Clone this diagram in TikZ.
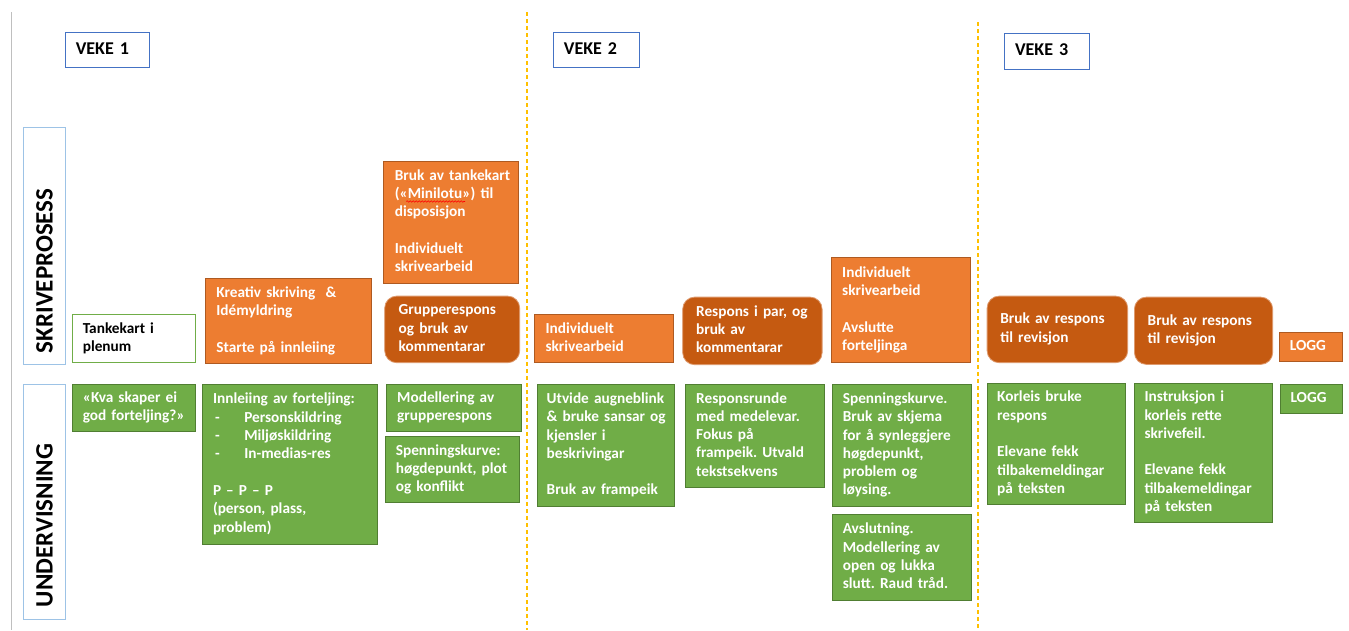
\documentclass[tikz,border=0pt]{standalone}
\usepackage{fontspec}
\setmainfont{Carlito}
\usetikzlibrary{decorations.pathmorphing}
\definecolor{orangeA}{HTML}{ED7D31}
\definecolor{orangeB}{HTML}{AE5A21}
\definecolor{darkO}{HTML}{C55A11}
\definecolor{darkOB}{HTML}{DE9A6E}
\definecolor{greenA}{HTML}{70AD47}
\definecolor{greenB}{HTML}{507E32}
\definecolor{blueA}{HTML}{4472C4}
\definecolor{blueL}{HTML}{9DC3E6}
\definecolor{grayL}{HTML}{BFBFBF}
\frenchspacing
\newcommand\mkbox[8]{%
  \pgfmathsetmacro\bw{#6-#4}\pgfmathsetmacro\bh{#7-#5}\pgfmathsetmacro\tw{#6-#4-2*#3}%
  \node[#1, inner xsep=#3pt, minimum width=\bw pt, minimum height=\bh pt, text width=\tw pt] (#2) at (#4,#5)
    {\begin{tabular}{@{}l@{}}#8\end{tabular}};}
\newcommand\dashitem[1]{\hspace{2pt}\makebox[29.3pt][l]{-}#1}
\begin{document}
\begin{tikzpicture}[x=1pt,y=-1pt,
  base/.style={anchor=north west, inner ysep=0pt, align=left,
    font=\fontsize{15.3}{18.3}\selectfont\bfseries, text=white, line width=1pt},
  obox/.style={base, fill=orangeA, draw=orangeB},
  rbox/.style={base, fill=darkO, draw=darkOB, rounded corners=12pt, line width=0.8pt},
  gbox/.style={base, fill=greenA, draw=greenB},
  wbox/.style={base, fill=white, draw=greenA, text=black},
  veke/.style={base, draw=blueA, text=black, font=\fontsize{18}{21}\selectfont\bfseries},
  side/.style={anchor=north west, draw=blueL, line width=1pt, inner sep=0pt},
  sidetext/.style={rotate=90, anchor=west, inner sep=0pt, font=\fontsize{25}{30}\selectfont\bfseries},
  weekline/.style={draw={rgb,255:red,255;green,192;blue,0}, line width=1.3pt, dash pattern=on 4pt off 3pt}
]
\useasboundingbox (0,0) rectangle (1349,630);
\fill[white] (0,0) rectangle (1349,630);

% guide lines
\coordinate (ga) at (11.5,12.3); \coordinate (gb) at (11.5,630);
\draw[grayL, line width=1.5pt] (ga) -- (gb);
\coordinate (wla) at (527,12.3); \coordinate (wlb) at (527,630);
\coordinate (wka) at (978,22.3); \coordinate (wkb) at (978,630);
\draw[weekline] (wla) -- (wlb);
\draw[weekline] (wka) -- (wkb);

% week labels
\mkbox{veke}{v1}{10.6}{64.7}{32.3}{148.8}{66.7}{VEKE 1}
\mkbox{veke}{v2}{10.6}{552.8}{32.3}{638.5}{66.7}{VEKE 2}
\mkbox{veke}{v3}{10.6}{1003.9}{33.3}{1089}{68.7}{VEKE 3}

% side labels
\node[side, minimum width=42pt, minimum height=237pt] (skbox) at (23.4,127.3) {};
\node[sidetext] (sktext) at (44.4,353.3) {SKRIVEPROSESS};
\node[side, minimum width=42pt, minimum height=235.3pt] (unbox) at (23.4,384) {};
\node[sidetext] (untext) at (44.4,607.3) {UNDERVISNING};

% row 1: skriveprosess
\mkbox{wbox}{tank}{10}{72.3}{314.3}{194.6}{361.7}{Tankekart i\\plenum}
\mkbox{obox}{kreativ}{10.7}{205.2}{277.7}{370.9}{363.3}{Kreativ skriving~~\&\\Idémyldring\\ \\Starte på innleiing}
\mkbox{obox}{tankekart}{11}{383.3}{160.7}{518.2}{283}{Bruk av tankekart\\(«Minilotu») til\\disposisjon\\ \\Individuelt\\skrivearbeid}
\mkbox{rbox}{gruppe}{14}{384.3}{295.7}{519.3}{362.3}{Grupperespons\\og bruk av\\kommentarar}
\mkbox{obox}{indiv}{11}{534}{314.3}{673}{362}{Individuelt\\skrivearbeid}
\mkbox{rbox}{par}{13.4}{682.3}{296.7}{821.7}{364.3}{Respons i par, og\\bruk av\\kommentarar}
\mkbox{obox}{avslutte}{11}{830.7}{257.3}{970}{362}{Individuelt\\skrivearbeid\\ \\Avslutte\\forteljinga}
\mkbox{rbox}{rev1}{13.3}{986.7}{295.7}{1127.3}{362.3}{Bruk av respons\\til revisjon}
\mkbox{rbox}{rev2}{13.3}{1134}{296.7}{1272.3}{364}{Bruk av respons\\til revisjon}
\mkbox{obox}{logg1}{10}{1279.3}{332.3}{1342}{360.7}{LOGG}

% spell-check squiggle
\coordinate (sq1) at (406.3,201.5); \coordinate (sq2) at (465,201.5);
\draw[red, line width=0.6pt, decorate, decoration={snake, amplitude=0.8pt, segment length=3pt}] (sq1) -- (sq2);

% row 2: undervisning
\mkbox{gbox}{kva}{10}{72.3}{384}{194.6}{431.3}{«Kva skaper ei\\god forteljing?»}
\mkbox{gbox}{innl}{10.7}{201.8}{384}{376.7}{543.7}{Innleiing av forteljing:\\\dashitem{Personskildring}\\\dashitem{Miljøskildring}\\\dashitem{In-medias-res}\\ \\P – P – P\\(person, plass,\\problem)}
\mkbox{gbox}{model}{11}{385.7}{384}{520.7}{431.3}{Modellering av\\grupperespons}
\mkbox{gbox}{spenn1}{10.7}{384.6}{436.3}{519.3}{502.3}{Spenningskurve:\\høgdepunkt, plot\\og konflikt}
\mkbox{gbox}{utvide}{9.5}{536.7}{384}{674.3}{506}{Utvide augneblink\\\& bruke sansar og\\kjensler i\\beskrivingar\\ \\Bruk av frampeik}
\mkbox{gbox}{resp}{10.7}{685}{384}{823.7}{487}{Responsrunde\\med medelevar.\\Fokus på\\frampeik. Utvald\\tekstsekvens}
\mkbox{gbox}{spenn2}{10.3}{832}{384}{971}{506}{Spenningskurve.\\Bruk av skjema\\for å synleggjere\\høgdepunkt,\\problem og\\løysing.}
\mkbox{gbox}{avsl}{10.3}{832}{514.3}{971}{600}{Avslutning.\\Modellering av\\open og lukka\\slutt. Raud tråd.}
\mkbox{gbox}{korleis}{10}{986.7}{382.7}{1125}{504.3}{Korleis bruke\\respons\\ \\Elevane fekk\\tilbakemeldingar\\på teksten}
\mkbox{gbox}{instr}{10}{1134}{382.7}{1272}{522.3}{Instruksjon i\\korleis rette\\skrivefeil.\\ \\Elevane fekk\\tilbakemeldingar\\på teksten}
\mkbox{gbox}{logg2}{10}{1280}{384}{1342}{413.3}{LOGG}
\end{tikzpicture}
\end{document}
